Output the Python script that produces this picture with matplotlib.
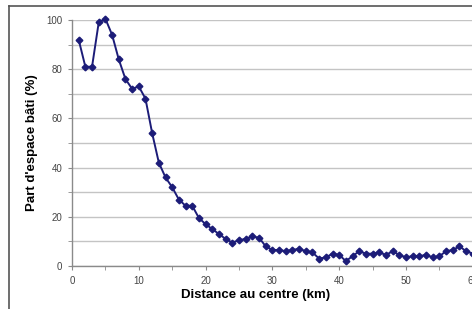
import matplotlib
matplotlib.use("Agg")
import matplotlib.pyplot as plt
from matplotlib.lines import Line2D
from matplotlib.ticker import MultipleLocator

distance_km = list(range(1, 61))
built_share = [92, 81, 81, 99, 100.5, 94, 84, 76, 72, 73,
               68, 54, 42, 36, 32, 27, 24.5, 24.5, 19.5, 17,
               15, 13, 11, 9.5, 10.5, 11, 12, 11.5, 8, 6.5,
               6.5, 6, 6.5, 7, 6, 5.5, 3, 3.5, 5, 4.5,
               2, 4, 6, 5, 5, 5.5, 4.5, 6, 4.5, 3.5,
               4, 4, 4.5, 3.5, 4, 6, 6.5, 8, 6, 5]

plt.rcParams['font.family'] = ['Liberation Sans', 'DejaVu Sans']

W, H = 472, 309
fig = plt.figure(figsize=(W / 100, H / 100), dpi=100)
fig.patch.set_facecolor('white')

px_per_km = 6.68
x_max = 70
left_px, bottom_px, top_px = 72, 266, 20
ax_w_px = x_max * px_per_km
ax = fig.add_axes([left_px / W, (H - bottom_px) / H,
                   ax_w_px / W, (bottom_px - top_px) / H])

ax.plot(distance_km, built_share, color='#1c1c78', lw=1.4,
        marker='D', markersize=3.4, markerfacecolor='#1c1c78',
        markeredgecolor='#1c1c78', clip_on=False, zorder=3)

ax.set_xlim(0, x_max)
ax.set_ylim(0, 100)
ax.xaxis.set_major_locator(MultipleLocator(10))
ax.xaxis.set_minor_locator(MultipleLocator(5))
ax.yaxis.set_major_locator(MultipleLocator(20))
ax.yaxis.set_minor_locator(MultipleLocator(10))
ax.grid(True, which='both', axis='y', color='#c4c4c4', lw=1.0)
ax.set_axisbelow(True)
for s in ['top', 'right']:
    ax.spines[s].set_visible(False)
for s in ['left', 'bottom']:
    ax.spines[s].set_color('#8a8a8a')
    ax.spines[s].set_linewidth(1.0)
ax.tick_params(which='both', direction='out', length=3, color='#8a8a8a',
               labelsize=7, labelcolor='#444444', pad=4)

ax.set_xlabel("Distance au centre (km)", fontsize=9.5, fontweight='bold')
ax.xaxis.set_label_coords((256 - left_px) / ax_w_px, -0.095)
ax.set_ylabel("Part d'espace bâti (%)", fontsize=9.5, fontweight='bold',
              labelpad=6)

# outer chart frame (cropped on right and bottom)
fig.add_artist(Line2D([9 / W, 1.0], [(H - 6) / H, (H - 6) / H],
                      transform=fig.transFigure, color='#555555', lw=1.2))
fig.add_artist(Line2D([9 / W, 9 / W], [(H - 6) / H, 0],
                      transform=fig.transFigure, color='#555555', lw=1.2))

fig.savefig("out.png", dpi=100)
